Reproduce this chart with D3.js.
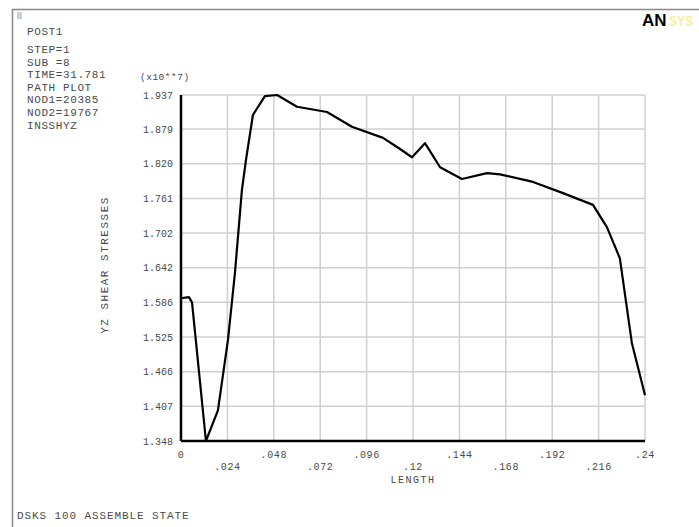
<!DOCTYPE html>
<html>
<head>
<meta charset="utf-8">
<script src="https://cdn.jsdelivr.net/npm/d3@7"></script>
<style>
  body { margin: 0; background: #fff; }
  text { font-family: "Liberation Mono", "DejaVu Sans Mono", monospace; fill: #4a4a4a; }
</style>
</head>
<body>
<div id="chart"></div>
<script>
// path plot values (length, stress x10**7)
var lengths = [0, 0.0041, 0.0057, 0.0129, 0.0191, 0.0243, 0.0279, 0.0315, 0.0336, 0.0372, 0.0434, 0.0497,
    0.0600, 0.0755, 0.0884, 0.1045, 0.1133, 0.1195, 0.1262, 0.1340, 0.1453, 0.1583, 0.1650, 0.1821,
    0.1976, 0.2131, 0.2203, 0.2270, 0.2332, 0.2400];
var stresses = [1.591, 1.593, 1.584, 1.348, 1.400, 1.520, 1.634, 1.775, 1.826, 1.903, 1.935, 1.937,
    1.917, 1.908, 1.883, 1.864, 1.845, 1.831, 1.855, 1.814, 1.794, 1.804, 1.802, 1.789,
    1.770, 1.750, 1.712, 1.659, 1.515, 1.426];

var x_ticks = [0, 0.024, 0.048, 0.072, 0.096, 0.12, 0.144, 0.168, 0.192, 0.216, 0.24];
var x_labels = ['0', '.024', '.048', '.072', '.096', '.12', '.144', '.168', '.192', '.216', '.24'];
var y_ticks = [1.348, 1.407, 1.466, 1.525, 1.584, 1.643, 1.702, 1.761, 1.820, 1.879, 1.937];
var y_labels = ['1.348', '1.407', '1.466', '1.525', '1.586', '1.642', '1.702', '1.761', '1.820', '1.879', '1.937'];
var info_lines = ['STEP=1', 'SUB =8', 'TIME=31.781', 'PATH PLOT', 'NOD1=20385', 'NOD2=19767', 'INSSHYZ'];

var WIDTH = 699, HEIGHT = 527;
var LEFT = 181, RIGHT = 645, TOP = 95, BOTTOM = 441;

var svg = d3.select('#chart').append('svg')
    .attr('width', WIDTH)
    .attr('height', HEIGHT);

// outer frame
svg.append('rect')
    .attr('x', 12.5).attr('y', 9.5)
    .attr('width', 690).attr('height', 520)
    .attr('fill', 'none')
    .attr('stroke', '#888')
    .attr('stroke-width', 1.5);

svg.append('rect')
    .attr('x', 17).attr('y', 12).attr('width', 5).attr('height', 7)
    .attr('fill', '#bfd8c8');

var x = d3.scaleLinear().domain([0, 0.24]).range([LEFT, RIGHT]);
var y = d3.scaleLinear().domain([1.348, 1.937]).range([BOTTOM, TOP]);

// grid
var grid = svg.append('g').attr('stroke', '#d0d0d0').attr('stroke-width', 1.5);
grid.selectAll('line.v')
    .data(x_ticks.slice(1)).enter().append('line')
    .attr('x1', function(d){ return x(d); }).attr('x2', function(d){ return x(d); })
    .attr('y1', TOP).attr('y2', BOTTOM);
grid.selectAll('line.h')
    .data(y_ticks.slice(1)).enter().append('line')
    .attr('x1', LEFT).attr('x2', RIGHT)
    .attr('y1', function(d){ return y(d); }).attr('y2', function(d){ return y(d); });

// axes lines
svg.append('line').attr('x1', LEFT).attr('x2', LEFT).attr('y1', TOP).attr('y2', BOTTOM)
    .attr('stroke', '#000').attr('stroke-width', 2.5);
svg.append('line').attr('x1', LEFT).attr('x2', RIGHT).attr('y1', BOTTOM).attr('y2', BOTTOM)
    .attr('stroke', '#000').attr('stroke-width', 2.5);

// x tick labels, alternating rows
svg.selectAll('text.xl')
    .data(x_ticks).enter().append('text')
    .attr('x', function(d){ return x(d); })
    .attr('y', function(d, i){ return i % 2 === 0 ? 458 : 470; })
    .attr('text-anchor', 'middle')
    .attr('font-size', 10)
    .attr('letter-spacing', 0.6)
    .text(function(d, i){ return x_labels[i]; });

svg.append('text').attr('x', x(0.12)).attr('y', 483)
    .attr('text-anchor', 'middle').attr('font-size', 10).attr('letter-spacing', 1.5).text('LENGTH');

// y tick labels
svg.selectAll('text.yl')
    .data(y_ticks).enter().append('text')
    .attr('x', 173)
    .attr('y', function(d){ return y(d) + 3.5; })
    .attr('text-anchor', 'end')
    .attr('font-size', 10)
    .text(function(d, i){ return y_labels[i]; });

svg.append('text').attr('x', 140).attr('y', 80).attr('font-size', 9.5).attr('letter-spacing', 0.5).text('(x10**7)');

svg.append('text')
    .attr('transform', 'translate(108,' + 265 + ') rotate(-90)')
    .attr('text-anchor', 'middle').attr('font-size', 11).attr('letter-spacing', 1.5)
    .text('YZ SHEAR STRESSES');

// curve
var line = d3.line()
    .x(function(d, i){ return x(lengths[i]); })
    .y(function(d){ return y(d); });
svg.append('path')
    .datum(stresses)
    .attr('d', line)
    .attr('fill', 'none')
    .attr('stroke', '#000')
    .attr('stroke-width', 2.2)
    .attr('stroke-linejoin', 'round');

// info block
svg.append('text').attr('x', 27).attr('y', 35).attr('font-size', 11).attr('letter-spacing', 0.6).text('POST1');
svg.selectAll('text.info')
    .data(info_lines).enter().append('text')
    .attr('x', 27)
    .attr('y', function(d, i){ return 53 + i * 12.6; })
    .attr('font-size', 11)
    .attr('letter-spacing', 0.6)
    .text(function(d){ return d; });

svg.append('text').attr('x', 17).attr('y', 519).attr('font-size', 11).attr('letter-spacing', 0.9).text('DSKS 100 ASSEMBLE STATE');

// logo
svg.append('text').attr('x', 642).attr('y', 26)
    .style('font-family', '"Liberation Sans", Arial, sans-serif')
    .style('fill', '#000').attr('font-weight', 'bold').attr('font-size', 17).text('AN');
svg.append('text').attr('x', 669).attr('y', 26)
    .style('font-family', '"Liberation Sans", Arial, sans-serif')
    .style('fill', '#f4f0a0').attr('font-weight', 'bold').attr('font-size', 15)
    .attr('textLength', 24).attr('lengthAdjust', 'spacingAndGlyphs').text('SYS');
</script>
</body>
</html>
